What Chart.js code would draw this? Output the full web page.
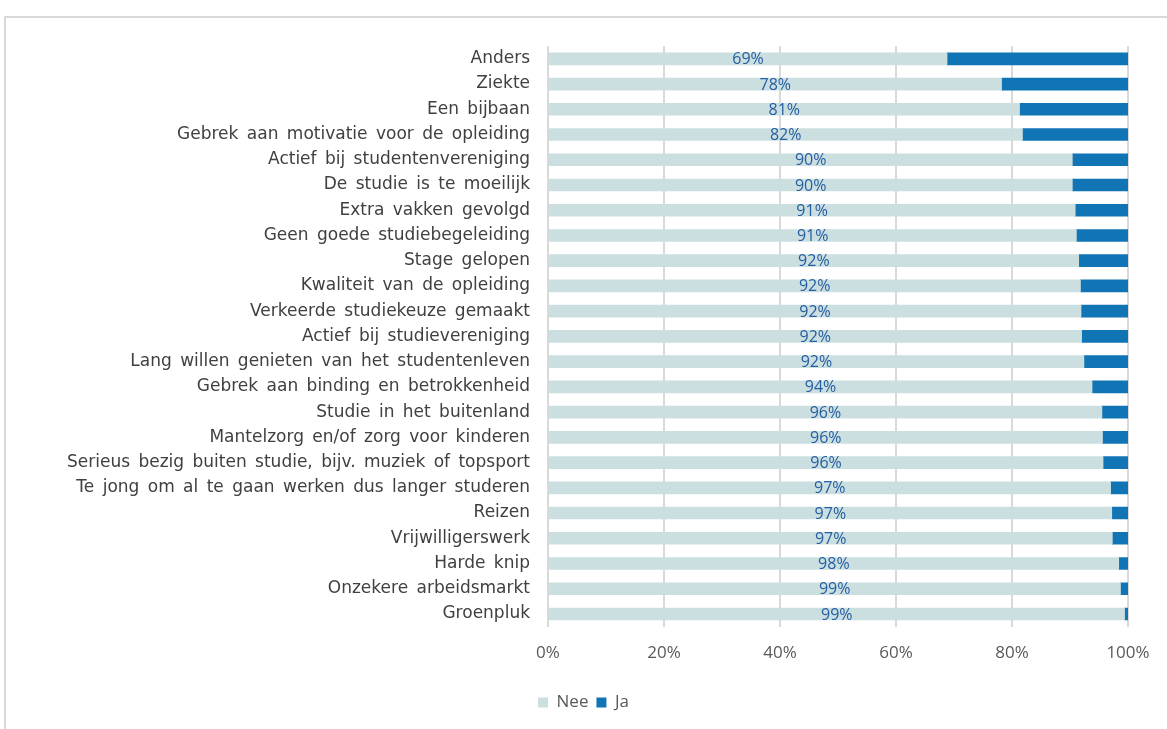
<!DOCTYPE html>
<html>
<head>
<meta charset="utf-8">
<script src="https://cdn.jsdelivr.net/npm/chart.js@4"></script>
<style>
  html, body { margin: 0; padding: 0; background: #fff; overflow: hidden; }
  .chart-box {
    position: absolute; left: 4px; top: 16px;
    width: 1186px; height: 730px;
    border-left: 2px solid #d9d9d9; border-top: 2px solid #d9d9d9;
    box-sizing: border-box;
  }
</style>
</head>
<body>
<div class="chart-box">
  <canvas id="redenChart"></canvas>
</div>
<script>
// Redenen (categorieën)
const categories = [
  'Anders', 'Ziekte', 'Een bijbaan', 'Gebrek aan motivatie voor de opleiding',
  'Actief bij studentenvereniging', 'De studie is te moeilijk', 'Extra vakken gevolgd',
  'Geen goede studiebegeleiding', 'Stage gelopen', 'Kwaliteit van de opleiding',
  'Verkeerde studiekeuze gemaakt', 'Actief bij studievereniging',
  'Lang willen genieten van het studentenleven', 'Gebrek aan binding en betrokkenheid',
  'Studie in het buitenland', 'Mantelzorg en/of zorg voor kinderen',
  'Serieus bezig buiten studie, bijv. muziek of topsport',
  'Te jong om al te gaan werken dus langer studeren', 'Reizen', 'Vrijwilligerswerk',
  'Harde knip', 'Onzekere arbeidsmarkt', 'Groenpluk'
];

// percentages "Nee"
const neeValues = [68.8, 78.2, 81.3, 81.8, 90.4, 90.4, 90.9, 91.1, 91.5, 91.8, 91.9, 92.0,
  92.4, 93.8, 95.5, 95.6, 95.7, 97.0, 97.2, 97.3, 98.4, 98.7, 99.4];

// percentages "Ja"
const jaValues = neeValues.map(v => +(100 - v).toFixed(1));

const xTicks = [0, 20, 40, 60, 80, 100];

const FONT = '"Open Sans", sans-serif';
const LABEL_FONT = '"DejaVu Sans", sans-serif';

// iets ruimere woordafstand zoals in het origineel + labels in de Nee-balk
const neeLabels = {
  id: 'neeLabels',
  beforeLayout(chart) { chart.ctx.wordSpacing = '3px'; },
  beforeDraw(chart) { chart.ctx.wordSpacing = '3px'; },
  afterLayout(chart) {
    // legenda centreren op het midden van het venster
    chart.legend.right += 33;
  },
  afterDatasetsDraw(chart) {
    const ctx = chart.ctx;
    const meta = chart.getDatasetMeta(0);
    ctx.save();
    ctx.font = '16px ' + FONT;
    ctx.fillStyle = '#245ea3';
    ctx.textAlign = 'center';
    ctx.textBaseline = 'middle';
    meta.data.forEach((bar, i) => {
      const cx = (bar.x + bar.base) / 2;
      ctx.fillText(Math.round(neeValues[i]) + '%', cx, bar.y + 1);
    });
    ctx.restore();
  }
};

new Chart(document.getElementById('redenChart'), {
  type: 'bar',
  data: {
    labels: categories,
    datasets: [
      { label: 'Nee', data: neeValues, backgroundColor: '#cbdfe0', barThickness: 12 },
      { label: 'Ja', data: jaValues, backgroundColor: '#1175b5', barThickness: 12 }
    ]
  },
  options: {
    indexAxis: 'y',
    responsive: true,
    maintainAspectRatio: false,
    animation: false,
    layout: { padding: { top: 27, right: 62, bottom: 25, left: 0 } },
    plugins: {
      tooltip: { enabled: false },
      legend: {
        position: 'bottom',
        labels: {
          font: { family: FONT, size: 17 },
          color: '#595959',
          boxWidth: 10,
          boxHeight: 10,
          padding: 8
        }
      }
    },
    scales: {
      x: {
        stacked: true,
        min: 0,
        max: 100,
        afterBuildTicks(axis) { axis.ticks = xTicks.map(v => ({ value: v })); },
        afterFit(axis) { axis.height += 7; },
        grid: { color: '#d9d9d9', lineWidth: 2, drawTicks: false },
        border: { display: false },
        ticks: {
          font: { family: FONT, size: 17 },
          color: '#595959',
          padding: 16,
          callback: v => v + '%'
        }
      },
      y: {
        stacked: true,
        afterFit(axis) { axis.width = 542; },
        grid: { display: false, drawTicks: false },
        border: { display: false },
        ticks: {
          font: { family: LABEL_FONT, size: 17 },
          color: '#404040',
          padding: 18,
          autoSkip: false
        }
      }
    }
  },
  plugins: [neeLabels]
});
</script>
</body>
</html>
